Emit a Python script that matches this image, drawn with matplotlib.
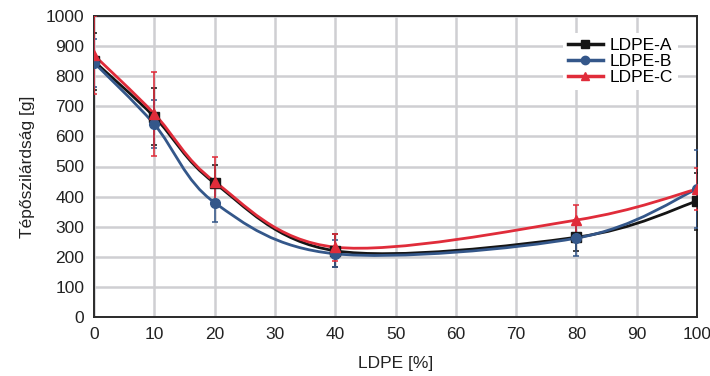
import numpy as np
import matplotlib
matplotlib.use("Agg")
import matplotlib.pyplot as plt
from matplotlib.path import Path
from matplotlib.patches import PathPatch
from matplotlib.lines import Line2D

plt.rcParams['font.family'] = ['Liberation Sans', 'DejaVu Sans']

x = [0, 10, 20, 40, 80, 100]
series_names = ["LDPE-A", "LDPE-B", "LDPE-C"]
ldpe_a = [850, 665, 445, 220, 265, 385]
ldpe_b = [845, 640, 380, 210, 262, 425]
ldpe_c = [870, 675, 450, 232, 322, 425]
err_a = [95, 95, 60, 55, 45, 95]
err_b = [80, 80, 65, 45, 60, 130]
err_c = [130, 140, 80, 45, 50, 70]
xticks = list(range(0, 101, 10))
yticks = list(range(0, 1001, 100))

colors = ["#151515", "#34578a", "#e02c3a"]
markers = ["s", "o", "^"]


def smooth_path(xs, ys):
    pts = np.column_stack([xs, ys]).astype(float)
    n = len(pts)
    verts = [pts[0]]
    codes = [Path.MOVETO]
    for i in range(n - 1):
        p0 = pts[i - 1] if i > 0 else pts[i]
        p1 = pts[i]
        p2 = pts[i + 1]
        p3 = pts[i + 2] if i + 2 < n else pts[i + 1]
        c1 = p1 + (p2 - p0) / 6.0
        c2 = p2 - (p3 - p1) / 6.0
        verts += [c1, c2, p2]
        codes += [Path.CURVE4] * 3
    return Path(verts, codes)


fig = plt.figure(figsize=(7.1, 3.76), dpi=100)
ax = fig.add_axes([94 / 710, 1 - 317 / 376, 603 / 710, 301 / 376])

ax.set_xlim(0, 100)
ax.set_ylim(0, 1000)
ax.set_xticks(xticks)
ax.set_yticks(yticks)
ax.grid(True, color="#cfcfd2", linewidth=1.8)
ax.set_axisbelow(True)
ax.tick_params(length=0, labelsize=12.5, pad=7, colors="#222222")
for s in ax.spines.values():
    s.set_color("#2a2a2a")
    s.set_linewidth(1.4)

handles = []
for vals, errs, col, mk, name in zip([ldpe_a, ldpe_b, ldpe_c], [err_a, err_b, err_c],
                                     colors, markers, series_names):
    ax.errorbar(x, vals, yerr=errs, fmt="none", ecolor=col, elinewidth=1.4,
                capsize=2.5, capthick=1.4, alpha=0.8, zorder=3)
    patch = PathPatch(smooth_path(x, vals), facecolor="none", edgecolor=col,
                      linewidth=2.0, zorder=4)
    ax.add_patch(patch)
    ax.plot(x, vals, linestyle="none", marker=mk, color=col, markersize=7, zorder=5)
    handles.append(Line2D([], [], color=col, linewidth=2.5, marker=mk, markersize=6))

leg = ax.legend(handles, series_names, loc="upper right",
                bbox_to_anchor=(1 - 10 / 603, 1 - 8 / 301), fontsize=12.5,
                labelspacing=0.05, handlelength=2.0, handletextpad=0.4,
                frameon=True, borderpad=0.3)
leg.get_frame().set_edgecolor("none")
leg.get_frame().set_facecolor("white")
leg.get_frame().set_alpha(1)

ax.set_xlabel("LDPE [%]", fontsize=12.5, labelpad=10, color="#222222")
ax.set_ylabel("Tépőszilárdság [g]", fontsize=12.5, labelpad=8, color="#222222")

fig.savefig("out.png", dpi=100)
